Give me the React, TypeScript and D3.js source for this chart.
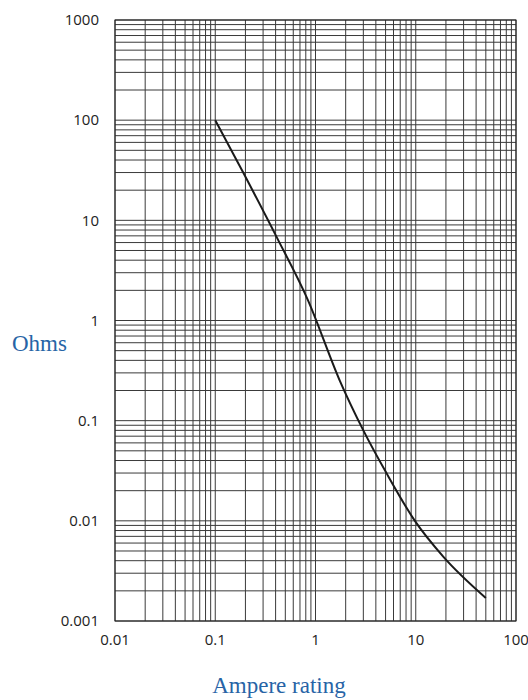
import React from "react";
import * as d3 from "d3";

const ampere: number[] = [0.1, 0.19, 0.41, 0.84, 1.75, 3.0, 5.1, 9.8, 18.8, 50];
const ohms: number[] = [100, 30, 6.8, 1.6, 0.25, 0.08, 0.03, 0.01, 0.0044, 0.0017];
const xTickLabels: string[] = ["0.01", "0.1", "1", "10", "100"];
const yTickLabels: string[] = ["0.001", "0.01", "0.1", "1", "10", "100", "1000"];
const xDomain: [number, number] = [0.01, 100];
const yDomain: [number, number] = [0.001, 1000];

const W = 528;
const H = 700;
const left = 115;
const right = 516;
const top = 20;
const bottom = 621;

function gridValues(lo: number, hi: number): number[] {
  const out: number[] = [];
  for (let p = Math.round(Math.log10(lo)); p < Math.round(Math.log10(hi)); p++) {
    for (let m = 1; m <= 9; m++) out.push(m * Math.pow(10, p));
  }
  out.push(hi);
  return out;
}

export default function App() {
  const x = d3.scaleLog().domain(xDomain).range([left, right]);
  const y = d3.scaleLog().domain(yDomain).range([bottom, top]);
  const xs = gridValues(xDomain[0], xDomain[1]);
  const ys = gridValues(yDomain[0], yDomain[1]);
  const pts = ampere.map((a, i) => [a, ohms[i]] as [number, number]);
  const line = d3
    .line<[number, number]>()
    .x((d) => x(d[0]))
    .y((d) => y(d[1]))
    .curve(d3.curveMonotoneX);
  const tickFont = "'Open Sans', 'Noto Sans', sans-serif";
  const titleFont = "'Liberation Serif', 'DejaVu Serif', serif";
  const blue = "#2764a6";
  return (
    <svg width={W} height={H} style={{ position: "absolute", left: 0, top: 0, background: "#fff" }}>
      <g>
        {xs.map((v, i) => (
          <line key={"vx" + i} x1={x(v)} x2={x(v)} y1={top} y2={bottom} stroke="#3a3a3a" strokeWidth={1} />
        ))}
        {ys.map((v, i) => (
          <line key={"hy" + i} x1={left} x2={right} y1={y(v)} y2={y(v)} stroke="#3a3a3a" strokeWidth={1} />
        ))}
        <rect x={left} y={top} width={right - left} height={bottom - top} fill="none" stroke="#222" strokeWidth={1} />
      </g>
      <path d={line(pts) || ""} fill="none" stroke="#1a1a1a" strokeWidth={2} />
      {xTickLabels.map((t) => (
        <text key={"xt" + t} x={x(+t)} y={bottom + 24} textAnchor="middle" fontFamily={tickFont} fontSize={15} fill="#222">
          {t}
        </text>
      ))}
      {yTickLabels.map((t) => (
        <text key={"yt" + t} x={left - 16} y={y(+t)} dy="0.35em" textAnchor="end" fontFamily={tickFont} fontSize={15} fill="#222">
          {t}
        </text>
      ))}
      <text x={12} y={y(1) + 30} fontFamily={titleFont} fontSize={23} fill={blue}>
        Ohms
      </text>
      <text x={279} y={693} textAnchor="middle" fontFamily={titleFont} fontSize={23} fill={blue}>
        Ampere rating
      </text>
    </svg>
  );
}
